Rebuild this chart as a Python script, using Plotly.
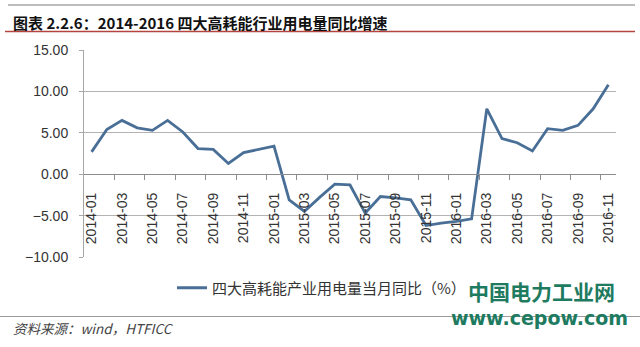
import plotly.graph_objects as go

# ---- data ----
months = ["2014-01","2014-02","2014-03","2014-04","2014-05","2014-06","2014-07","2014-08","2014-09","2014-10","2014-11","2014-12",
          "2015-01","2015-02","2015-03","2015-04","2015-05","2015-06","2015-07","2015-08","2015-09","2015-10","2015-11","2015-12",
          "2016-01","2016-02","2016-03","2016-04","2016-05","2016-06","2016-07","2016-08","2016-09","2016-10","2016-11"]
values = [2.7, 5.4, 6.5, 5.6, 5.3, 6.5, 5.1, 3.1, 3.0, 1.3, 2.6, 3.0,
          3.4, -3.1, -4.5, -2.8, -1.2, -1.3, -4.7, -2.7, -2.85, -3.1, -6.2, -5.9,
          -5.7, -5.4, 7.9, 4.3, 3.8, 2.8, 5.5, 5.3, 5.9, 7.9, 10.8]
y_ticks = [-10, -5, 0, 5, 10, 15]
series_name = "四大高耗能产业用电量当月同比（%）"
title_text = "图表 2.2.6：2014-2016 四大高耗能行业用电量同比增速"
source_text = "资料来源：wind，HTFICC"

W, H = 640, 347
L, R, T, B = 84, 24, 50, 90
pw, ph = W - L - R, H - T - B
def px(x):
    return (x - L) / pw
def py(y):
    return (H - B - y) / ph

idx = list(range(len(months)))
ymin, ymax = min(y_ticks), max(y_ticks)

fig = go.Figure()
fig.add_trace(go.Scatter(x=idx, y=values, mode="lines", name=series_name,
                         line=dict(color="#4a6f97", width=2.8)))

grey = "#a6a6a6"
fig.update_layout(
    width=W, height=H, autosize=False,
    margin=dict(l=L, r=R, t=T, b=B),
    paper_bgcolor="white", plot_bgcolor="white",
    font=dict(family="Liberation Sans, Arial, sans-serif", color="#333333"),
    showlegend=True,
    legend=dict(orientation="h", x=px(172), y=py(288), xanchor="left", yanchor="middle",
                font=dict(family="Noto Sans CJK SC", size=15, color="#333333"),
                bgcolor="rgba(0,0,0,0)"),
    xaxis=dict(range=[-0.5, len(months) - 0.5], tickmode="array",
               tickvals=idx[::2], ticktext=months[::2], tickangle=-90,
               tickfont=dict(size=14, color="#333333"),
               ticks="", ticklabelstandoff=12,
               showline=True, linecolor="#8c8c8c", linewidth=1,
               showgrid=False, zeroline=False,
               anchor="free", position=(0 - ymin) / (ymax - ymin),
               minor=dict(tickmode="array", tickvals=[i + 0.5 for i in idx[1:-1:2]],
                          ticks="outside", ticklen=5, tickcolor="#8c8c8c", showgrid=False)),
    yaxis=dict(range=[ymin, ymax], tickmode="array", tickvals=y_ticks,
               tickformat=".2f", tickfont=dict(size=14, color="#333333"),
               ticks="outside", ticklen=4, tickcolor=grey,
               showline=True, linecolor=grey, linewidth=1,
               showgrid=True, gridcolor="#b3b3b3", gridwidth=1, zeroline=False,
               ticklabelstandoff=8),
)

shapes = [
    dict(type="line", xref="paper", yref="paper", x0=px(8), x1=px(635), y0=py(5), y1=py(5),
         line=dict(color="#bdbdbd", width=2)),
    dict(type="line", xref="paper", yref="paper", x0=px(5), x1=px(635), y0=py(31.5), y1=py(31.5),
         line=dict(color="#b5443f", width=1.5)),
    dict(type="line", xref="paper", yref="paper", x0=px(0), x1=px(640), y0=py(316.5), y1=py(316.5),
         line=dict(color="#9a9a9a", width=1)),
]
fig.update_layout(shapes=shapes)

anns = [
    dict(text="<b>" + title_text + "</b>", x=px(11), y=py(22), xref="paper", yref="paper",
         xanchor="left", yanchor="middle", showarrow=False,
         font=dict(family="Noto Sans CJK SC", size=15, color="#111111")),
    dict(text="<i>" + source_text + "</i>", x=px(11), y=py(328), xref="paper", yref="paper",
         xanchor="left", yanchor="middle", showarrow=False,
         font=dict(family="Noto Sans CJK SC", size=13.5, color="#444444")),
    dict(text="<b>中国电力工业网</b>", x=px(541), y=py(291), xref="paper", yref="paper",
         xanchor="center", yanchor="middle", showarrow=False,
         font=dict(family="Noto Sans CJK SC", size=21, color="#1e7b5f")),
    dict(text="<b>www.cepow.com</b>", x=px(539), y=py(318), xref="paper", yref="paper",
         xanchor="center", yanchor="middle", showarrow=False,
         font=dict(family="DejaVu Sans", size=19, color="#1e7b5f")),
]
fig.update_layout(annotations=anns)

fig.write_html("out.html")
